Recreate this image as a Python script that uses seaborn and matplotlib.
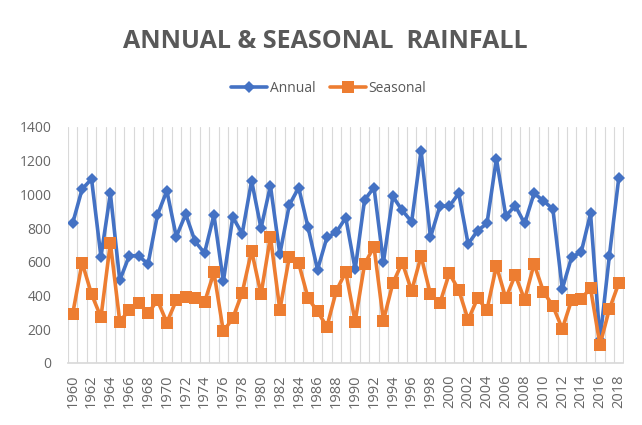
import numpy as np
import pandas as pd
import matplotlib
matplotlib.use("Agg")
import matplotlib.pyplot as plt
import seaborn as sns

years = list(range(1960, 2019))
annual = [830, 1032, 1091, 630, 1006, 490, 636, 636, 587, 878,
          1022, 749, 883, 721, 652, 878, 484, 866, 767, 1081,
          799, 1052, 646, 937, 1040, 804, 553, 745, 776, 862,
          556, 968, 1041, 597, 988, 905, 838, 1260, 746, 931,
          930, 1006, 706, 785, 828, 1212, 872, 933, 828, 1006,
          962, 913, 440, 630, 656, 887, 136, 636, 1099]
seasonal = [292, 596, 408, 272, 712, 245, 315, 358, 294, 372,
            240, 372, 390, 383, 360, 537, 187, 266, 416, 666,
            407, 749, 315, 627, 592, 384, 306, 215, 429, 540,
            246, 587, 690, 252, 473, 596, 428, 634, 407, 355,
            532, 433, 256, 384, 315, 576, 384, 522, 375, 588,
            423, 338, 203, 375, 382, 443, 108, 320, 473]

df = pd.DataFrame({
    "Year": years * 2,
    "Rainfall": annual + seasonal,
    "Series": ["Annual"] * len(years) + ["Seasonal"] * len(years),
})
df["pos"] = df["Year"] - years[0]

sns.set_theme(style="white")
plt.rcParams["font.family"] = ["Open Sans", "DejaVu Sans"]

fig = plt.figure(figsize=(6.42, 4.25), dpi=100)
ax = fig.add_axes([68 / 642, 62 / 425, (623.5 - 68) / 642, (363 - 127) / 425])

palette = {"Annual": "#4472C4", "Seasonal": "#ED7D31"}
markers = {"Annual": "D", "Seasonal": "s"}
sns.lineplot(data=df, x="pos", y="Rainfall", hue="Series", style="Series",
             palette=palette, markers=markers, dashes=False, linewidth=2.6,
             markeredgewidth=0, ax=ax, legend=False)
for line, ms in zip(ax.lines, [6.5, 9]):
    line.set_markersize(ms)

n = len(years)
ax.set_xlim(-0.5, n - 0.5)
ax.set_ylim(0, 1400)
ax.set_xticks(range(0, n, 2))
ax.set_xticklabels([str(y) for y in years[::2]], rotation=90, fontsize=10.5, color="#666666")
for b in np.arange(-0.5, n, 1.0):
    ax.axvline(b, color="#D9D9D9", lw=0.8, zorder=0)
ax.set_yticks(range(0, 1401, 200))
ax.set_yticklabels([str(v) for v in range(0, 1401, 200)], fontsize=10, color="#666666")
ax.tick_params(axis="x", length=0, pad=8)
ax.tick_params(axis="y", length=0, pad=12)
for s in ["top", "right", "left"]:
    ax.spines[s].set_visible(False)
ax.spines["bottom"].set_color("#D9D9D9")
ax.set_xlabel("")
ax.set_ylabel("")
ax.grid(False)

fig.text(0.507, 1 - 41 / 425, "ANNUAL & SEASONAL  RAINFALL", ha="center", va="center",
         fontsize=18, fontweight="bold", color="#595959")

from matplotlib.lines import Line2D
handles = [Line2D([], [], color=palette[k], marker=markers[k], lw=2.6,
                  markersize=ms, markeredgewidth=0) for k, ms in zip(["Annual", "Seasonal"], [6.5, 9])]
fig.legend(handles, ["Annual", "Seasonal"], loc="center", bbox_to_anchor=(0.512, 1 - 88 / 425),
           ncol=2, frameon=False, fontsize=10, handlelength=2.6, columnspacing=1.0,
           handletextpad=0.2, labelcolor="#595959")

fig.savefig("out.png", dpi=100)
